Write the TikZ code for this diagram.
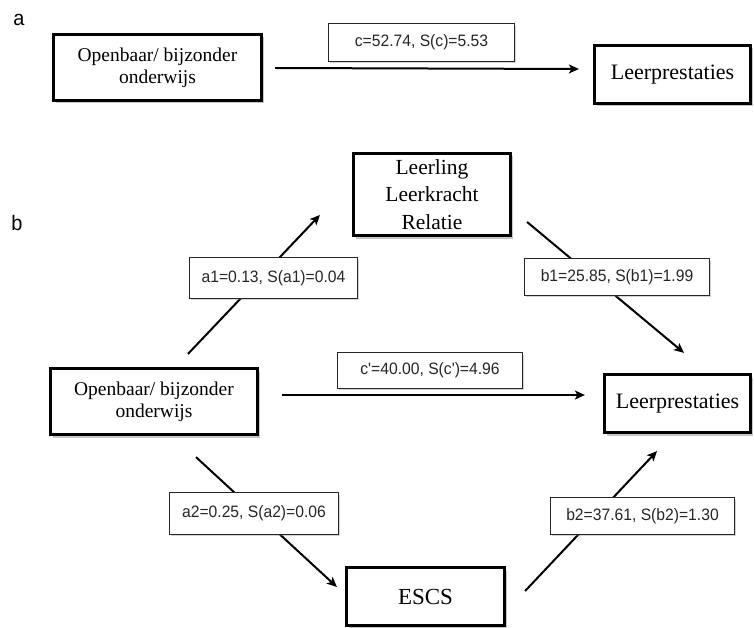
\documentclass[tikz,border=0pt]{standalone}
\usepackage{fontspec}
\setmainfont{Liberation Serif}
\newfontfamily\labfont[FakeStretch=0.95]{Liberation Sans}
\usetikzlibrary{arrows.meta,shadows,calc}

\begin{document}
\begin{tikzpicture}[x=1pt,y=-1pt,
  mainbox/.style={draw=black, line width=3.2pt, fill=white, align=center, inner sep=0pt,
    drop shadow={opacity=0.45, shadow xshift=2.5pt, shadow yshift=-3pt}},
  edgelab/.style={draw=black!85, line width=1.2pt, fill=white, inner sep=0pt,
    font=\labfont\fontsize{16.5}{20}\selectfont, text=black!85,
    drop shadow={opacity=0.35, shadow xshift=1.5pt, shadow yshift=-2pt}},
  arr/.style={line width=2pt, -{Stealth[length=10pt,width=9pt,inset=2.5pt]}},
  panel/.style={font=\labfont\fontsize{21}{24}\selectfont, inner sep=0pt}
]
\useasboundingbox (0,0) rectangle (754,628);

% panel a
\node[panel] (pa) at (19,20) {a};
\node[mainbox, minimum width=208pt, minimum height=66pt, font=\fontsize{19.5}{22}\selectfont] (oa) at (157.5,67.5) {Openbaar/ bijzonder\\onderwijs};
\node[mainbox, minimum width=156pt, minimum height=58pt, font=\fontsize{22}{26}\selectfont] (la) at (672.5,74.5) {Leerprestaties};

% panel b
\node[panel] (pb) at (17,223) {b};
\node[mainbox, minimum width=157pt, minimum height=82pt, font=\fontsize{21.5}{27.5}\selectfont] (llr) at (432,194.5) {Leerling\\Leerkracht\\Relatie};
\node[mainbox, minimum width=207pt, minimum height=66pt, font=\fontsize{19.5}{22}\selectfont] (ob) at (154,401.5) {Openbaar/ bijzonder\\onderwijs};
\node[mainbox, minimum width=146pt, minimum height=58pt, font=\fontsize{22}{26}\selectfont] (lb) at (677.5,403.5) {Leerprestaties};
\node[mainbox, minimum width=158pt, minimum height=58pt, font=\fontsize{23}{26}\selectfont] (escs) at (425.5,596.5) {ESCS};

% arrows
\draw[arr] ($(oa.east)+(12,0.5)$) -- ($(la.west)+(-14,-5.5)$);
\draw[arr] ($(ob.north)+(34,-13)$) -- ($(llr.west)+(-32,20.5)$);
\draw[arr] ($(llr.east)+(15,27.5)$) -- ($(lb.north)+(6.5,-20)$);
\draw[arr] ($(ob.east)+(23,-6.5)$) -- ($(lb.west)+(-18,-8.5)$);
\draw[arr] ($(ob.south)+(42,21)$) -- ($(escs.west)+(-8,-9.5)$);
\draw[arr] ($(escs.east)+(19,-5.5)$) -- ($(lb.south)+(-20.5,17)$);

% edge labels
\node[edgelab, minimum width=185.8pt, minimum height=37.8pt] (clab) at (421.5,42.5) {c=52.74, S(c)=5.53};
\node[edgelab, minimum width=167.8pt, minimum height=40.8pt] (a1lab) at (273.5,278) {a1=0.13, S(a1)=0.04};
\node[edgelab, minimum width=184.8pt, minimum height=36.8pt] (b1lab) at (617,277) {b1=25.85, S(b1)=1.99};
\node[edgelab, minimum width=184.8pt, minimum height=35.8pt] (cplab) at (430,370.5) {c'=40.00, S(c')=4.96};
\node[edgelab, minimum width=168.8pt, minimum height=41.8pt] (a2lab) at (254,513.5) {a2=0.25, S(a2)=0.06};
\node[edgelab, minimum width=183.8pt, minimum height=36.8pt] (b2lab) at (642.5,516) {b2=37.61, S(b2)=1.30};
\end{tikzpicture}
\end{document}
